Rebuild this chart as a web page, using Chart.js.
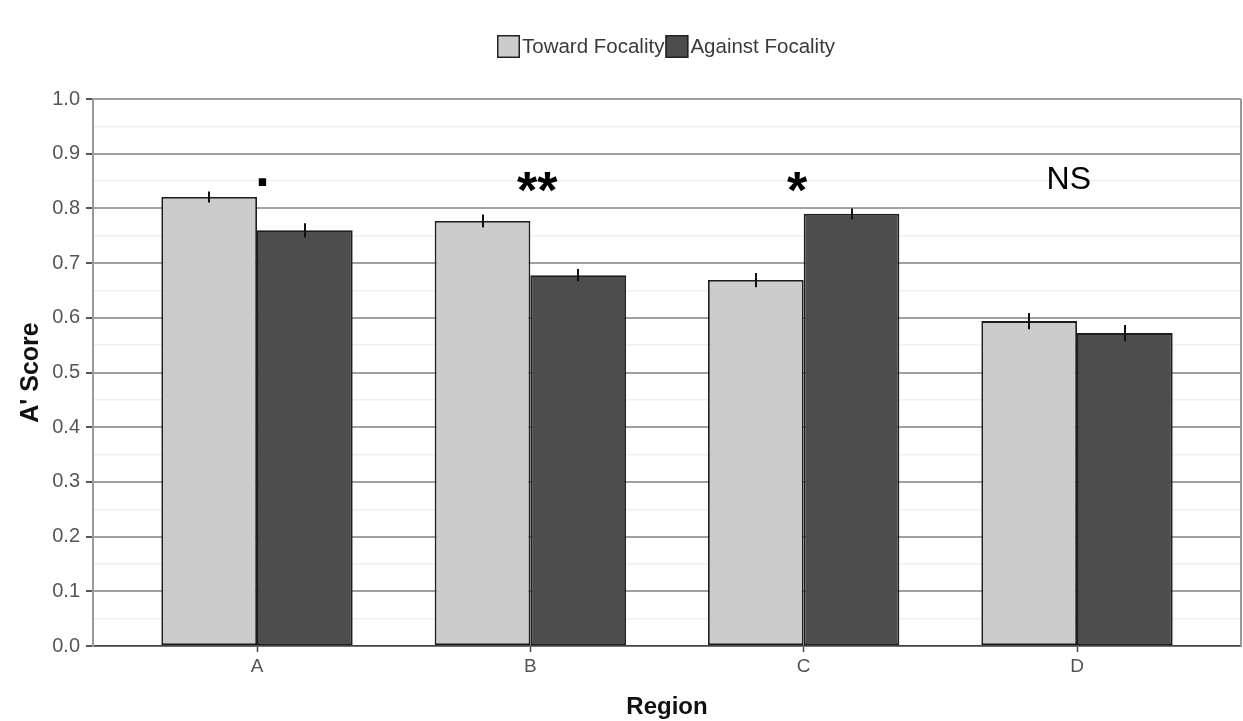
<!DOCTYPE html>
<html>
<head>
<meta charset="utf-8">
<script src="https://cdn.jsdelivr.net/npm/chart.js@4"></script>
<style>
  html, body { margin: 0; padding: 0; background: #ffffff; }
  #wrap { width: 1243px; height: 721px; }
</style>
</head>
<body>
<div id="wrap"><canvas id="c" width="1243" height="721"></canvas></div>
<script>
// Regions on the x axis
const regions = ['A', 'B', 'C', 'D'];
// Mean A' scores per region
const towardScores = [0.821, 0.777, 0.669, 0.594];
const againstScores = [0.760, 0.678, 0.790, 0.572];
// Standard errors
const towardErrors = [0.010, 0.012, 0.013, 0.015];
const againstErrors = [0.013, 0.011, 0.010, 0.015];
// Significance labels above each region
const sigLabels = ['.', '**', '*', 'NS'];
const sigLevel = 0.85;
// Legend entries
const seriesNames = ['Toward Focality', 'Against Focality'];
const seriesColors = ['#cccccc', '#4d4d4d'];

const FONT = "'Liberation Sans', Arial, Helvetica, sans-serif";

const toPoints = (vals) => vals.map((v, i) => ({ x: i + 1, y: v }));

// error bars, significance marks, legend and panel border
const extras = {
  id: 'extras',
  afterDatasetsDraw(chart) {
    const ctx = chart.ctx;
    const xs = chart.scales.x, ys = chart.scales.y;
    const errs = [towardErrors, againstErrors];
    ctx.save();
    ctx.strokeStyle = '#111111';
    ctx.lineWidth = 2;
    chart.data.datasets.forEach((ds, di) => {
      const meta = chart.getDatasetMeta(di);
      meta.data.forEach((bar, i) => {
        const v = ds.data[i].y, e = errs[di][i];
        const x = Math.round(bar.x);
        ctx.beginPath();
        ctx.moveTo(x, ys.getPixelForValue(v + e));
        ctx.lineTo(x, ys.getPixelForValue(v - e));
        ctx.stroke();
      });
    });
    // significance marks, nudged slightly as set in the annotation layer
    const nudge = [0.02, 0.025, -0.024, -0.03];
    ctx.fillStyle = '#000000';
    ctx.textAlign = 'center';
    ctx.textBaseline = 'alphabetic';
    sigLabels.forEach((t, i) => {
      const x = xs.getPixelForValue(i + 1 + nudge[i]);
      const y = ys.getPixelForValue(sigLevel);
      if (t === 'NS') {
        ctx.font = '32px ' + FONT;
        ctx.fillText(t, x, y + 8);
      } else {
        ctx.font = 'bold 52px ' + FONT;
        ctx.fillText(t, x, y + (t === '.' ? 5 : 27));
      }
    });
    // panel border on the right
    const a = chart.chartArea;
    ctx.strokeStyle = '#9a9a9a';
    ctx.lineWidth = 2;
    ctx.beginPath();
    ctx.moveTo(a.right, a.top);
    ctx.lineTo(a.right, a.bottom);
    ctx.stroke();
    ctx.restore();
  },
  afterDraw(chart) {
    const ctx = chart.ctx;
    const a = chart.chartArea;
    ctx.save();
    ctx.font = '20.5px ' + FONT;
    const box = 23, gap = 2;
    const widths = seriesNames.map(n => ctx.measureText(n).width);
    const total = widths.reduce((s, w) => s + box + gap + w + 1, 0);
    let x = Math.round((a.left + a.right) / 2 - total / 2);
    const yTop = 35;
    seriesNames.forEach((n, i) => {
      ctx.fillStyle = seriesColors[i];
      ctx.fillRect(x, yTop, box, box);
      ctx.strokeStyle = '#222222';
      ctx.lineWidth = 1.5;
      ctx.strokeRect(x + 0.75, yTop + 0.75, box - 1.5, box - 1.5);
      ctx.fillStyle = '#3a3a3a';
      ctx.textAlign = 'left';
      ctx.textBaseline = 'middle';
      ctx.fillText(n, x + box + gap, yTop + box / 2 + 1);
      x += box + gap + widths[i] + 1;
    });
    ctx.restore();
  }
};

new Chart(document.getElementById('c'), {
  type: 'bar',
  data: {
    datasets: [
      {
        label: seriesNames[0],
        data: toPoints(towardScores),
        backgroundColor: seriesColors[0],
        borderColor: '#1e1e1e',
        borderWidth: 1.8,
        borderSkipped: false,
        categoryPercentage: 0.7,
        barPercentage: 1.0
      },
      {
        label: seriesNames[1],
        data: toPoints(againstScores),
        backgroundColor: seriesColors[1],
        borderColor: '#1e1e1e',
        borderWidth: 1.8,
        borderSkipped: false,
        categoryPercentage: 0.7,
        barPercentage: 1.0
      }
    ]
  },
  options: {
    responsive: false,
    animation: false,
    devicePixelRatio: 1,
    layout: { padding: { left: 10, right: 2, top: 99, bottom: 0 } },
    plugins: {
      legend: { display: false },
      tooltip: { enabled: false }
    },
    scales: {
      x: {
        type: 'linear',
        min: 0.4,
        max: 4.6,
        offset: false,
        afterBuildTicks(scale) {
          scale.ticks = regions.map((_, i) => ({ value: i + 1 }));
        },
        afterFit(scale) { scale.height = 75; },
        ticks: {
          callback: (v) => regions[v - 1] || '',
          color: '#555555',
          font: { family: FONT, size: 19 },
          padding: 3,
          maxRotation: 0
        },
        grid: {
          offset: false,
          drawOnChartArea: false,
          drawTicks: true,
          tickLength: 6,
          tickColor: '#444444',
          tickWidth: 1.5
        },
        border: { color: '#444444', width: 1.5 },
        title: {
          display: true,
          text: 'Region',
          color: '#111111',
          font: { family: FONT, size: 24, weight: 'bold' },
          padding: { top: 0, bottom: -1 }
        }
      },
      y: {
        min: 0,
        max: 1,
        afterBuildTicks(scale) {
          const t = [];
          for (let k = 0; k <= 20; k++) t.push({ value: k / 20 });
          scale.ticks = t;
        },
        afterFit(scale) { scale.width = 83; },
        ticks: {
          callback: (v) => {
            const k = Math.round(v * 20);
            return k % 2 === 0 ? (k / 20).toFixed(1) : '';
          },
          color: '#555555',
          font: { family: FONT, size: 20 },
          padding: 6
        },
        grid: {
          color: (c) => (Math.round(c.tick.value * 20) % 2 === 0 ? '#a0a0a0' : '#efefef'),
          lineWidth: (c) => (Math.round(c.tick.value * 20) % 2 === 0 ? 2 : 1.5),
          tickColor: (c) => (Math.round(c.tick.value * 20) % 2 === 0 ? '#555555' : 'rgba(0,0,0,0)'),
          tickLength: 7,
          tickWidth: 2
        },
        border: { color: '#9a9a9a', width: 2 },
        title: {
          display: true,
          text: "A' Score",
          color: '#111111',
          font: { family: FONT, size: 25, weight: 'bold' },
          padding: { top: 6, bottom: 0 }
        }
      }
    }
  },
  plugins: [extras]
});
</script>
</body>
</html>
